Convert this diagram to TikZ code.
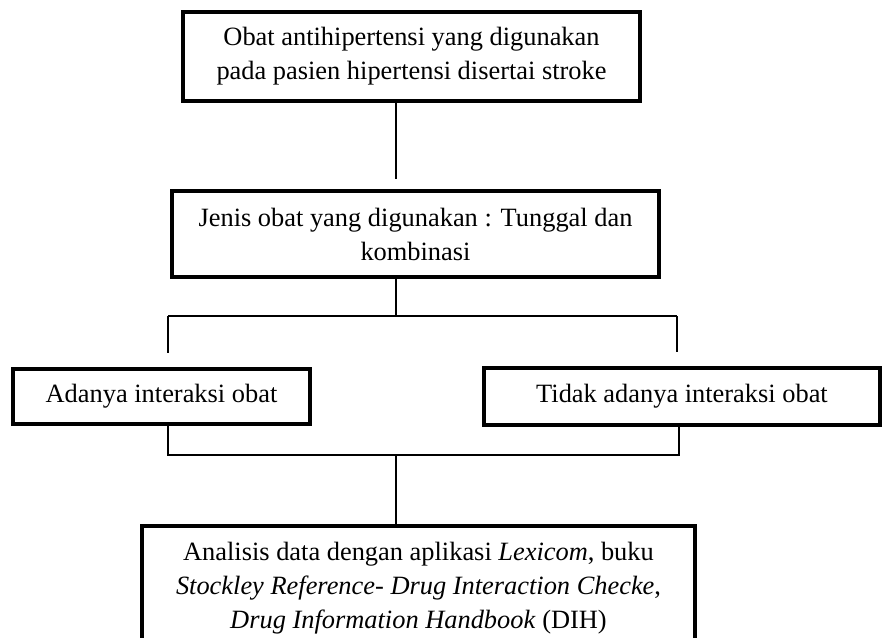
\documentclass[tikz,border=0pt]{standalone}
\usepackage{fontspec}
\setmainfont{Liberation Serif}
\usetikzlibrary{positioning}

\begin{document}
\begin{tikzpicture}[x=0.5pt, y=-0.5pt, link/.style = {line width=0.6pt},
    main/.style = {draw, line width=1.8pt, inner sep=0pt, align=center,
        font=\fontsize{13.2}{17}\selectfont}]
            \useasboundingbox (0,0) rectangle (882,637);
            \node[main, minimum width=228.5pt, minimum height=44.5pt] (1) at (411.5,56.5) {Obat antihipertensi yang digunakan\\pada pasien hipertensi disertai stroke};
            \node[main, minimum width=243.5pt, minimum height=43pt] (2) at (415.5,234) {Jenis obat yang digunakan : Tunggal dan\\kombinasi};
            \node[main, minimum width=148.5pt, minimum height=27.5pt] (3) at (161.5,396.5) {Adanya interaksi obat};
            \node[main, minimum width=198pt, minimum height=28.5pt] (4) at (682,396.5) {Tidak adanya interaksi obat};
            \node[main, minimum width=276.5pt, minimum height=62pt] (5) at (418.5,588) {Analisis data dengan aplikasi \textit{Lexicom}, buku\\\textit{Stockley Reference- Drug Interaction Checke},\\\textit{Drug Information Handbook} (DIH)};
            \coordinate (m) at (396,0);
            \coordinate (l) at (168,316);
            \coordinate (r) at (677,316);
            \coordinate (bl) at (168,455);
            \coordinate (br) at (679,455);
            \draw[link, shorten >=5pt] (1.south -| m) -- (2.north -| m);
            \draw[link] (2.south -| m) -- (m |- l);
            \draw[link] (l) -- (r);
            \draw[link, shorten >=7pt] (l) -- (3.north -| l);
            \draw[link, shorten >=7pt] (r) -- (4.north -| r);
            \draw[link] (3.south -| bl) -- (bl) -- (br) -- (4.south -| br);
            \draw[link] (m |- bl) -- (5.north -| m);
        \end{tikzpicture}
\end{document}
